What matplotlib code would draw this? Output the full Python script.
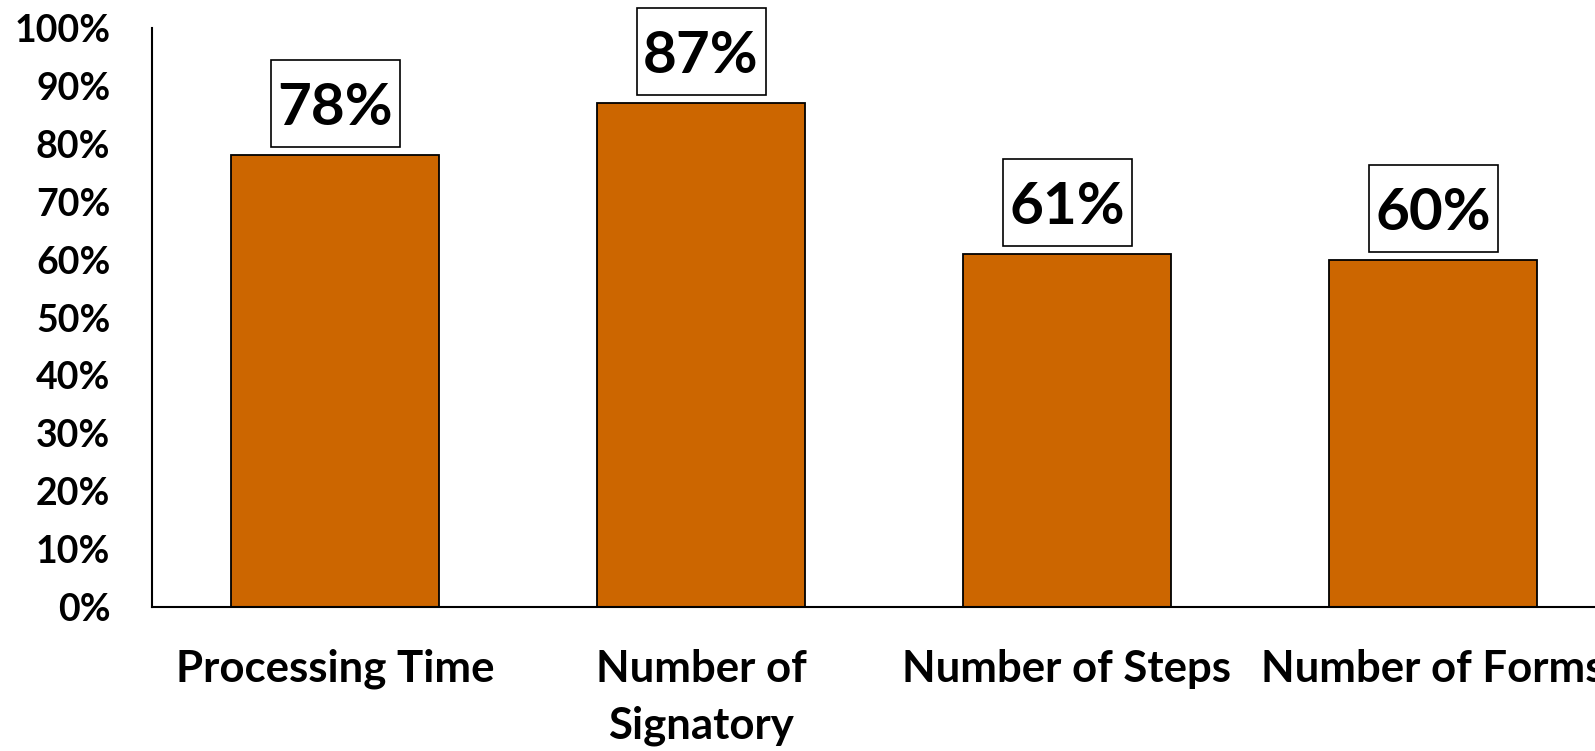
import numpy as np
import matplotlib
matplotlib.use("Agg")
from matplotlib import pyplot as plt
from matplotlib.patches import Rectangle
from matplotlib.transforms import ScaledTranslation

# values
categories = ["Processing Time", "Number of\nSignatory", "Number of Steps", "Number of Forms"]
values = [78, 87, 61, 60]
yticks = [0, 10, 20, 30, 40, 50, 60, 70, 80, 90, 100]

plt.rcParams["font.family"] = ["Lato", "DejaVu Sans"]
plt.rcParams["font.weight"] = "bold"

W, H = 1595, 751
fig = plt.figure(figsize=(W / 100, H / 100), dpi=100)
# axes run past the right edge, like the cropped original
ax = fig.add_axes([152 / W, 144 / H, 1464 / W, 579 / H])

x = np.arange(len(categories))
ax.bar(x, values, width=0.57, color="#CC6600", edgecolor="black", linewidth=1.3, zorder=2)

# boxed value labels, sized in inches from the bar top
for xi, v in zip(x, values):
    trans = fig.dpi_scale_trans + ScaledTranslation(xi, v, ax.transData)
    ax.add_patch(Rectangle((-0.645, 0.08), 1.29, 0.87, transform=trans,
                           fc="white", ec="black", lw=1.2, clip_on=False, zorder=3))
    ax.text(0, 0.30, f"{v}%", transform=trans, ha="center", va="baseline",
            fontsize=42, fontweight="bold", clip_on=False, zorder=4)

ax.set_xlim(-0.5, 3.5)
ax.set_ylim(0, 100)
ax.set_yticks(yticks)
ax.set_yticklabels([f"{t}%" for t in yticks], fontsize=27, fontweight="bold")
ax.set_xticks(x)
ax.set_xticklabels(categories, fontsize=31.5, fontweight="bold", linespacing=1.5)
ax.tick_params(axis="y", length=0, pad=30)
ax.tick_params(axis="x", length=0, pad=30)

for s in ["top", "right"]:
    ax.spines[s].set_visible(False)
for s in ["left", "bottom"]:
    ax.spines[s].set_linewidth(1.5)
    ax.spines[s].set_color("black")

fig.savefig("out.png", dpi=100)
